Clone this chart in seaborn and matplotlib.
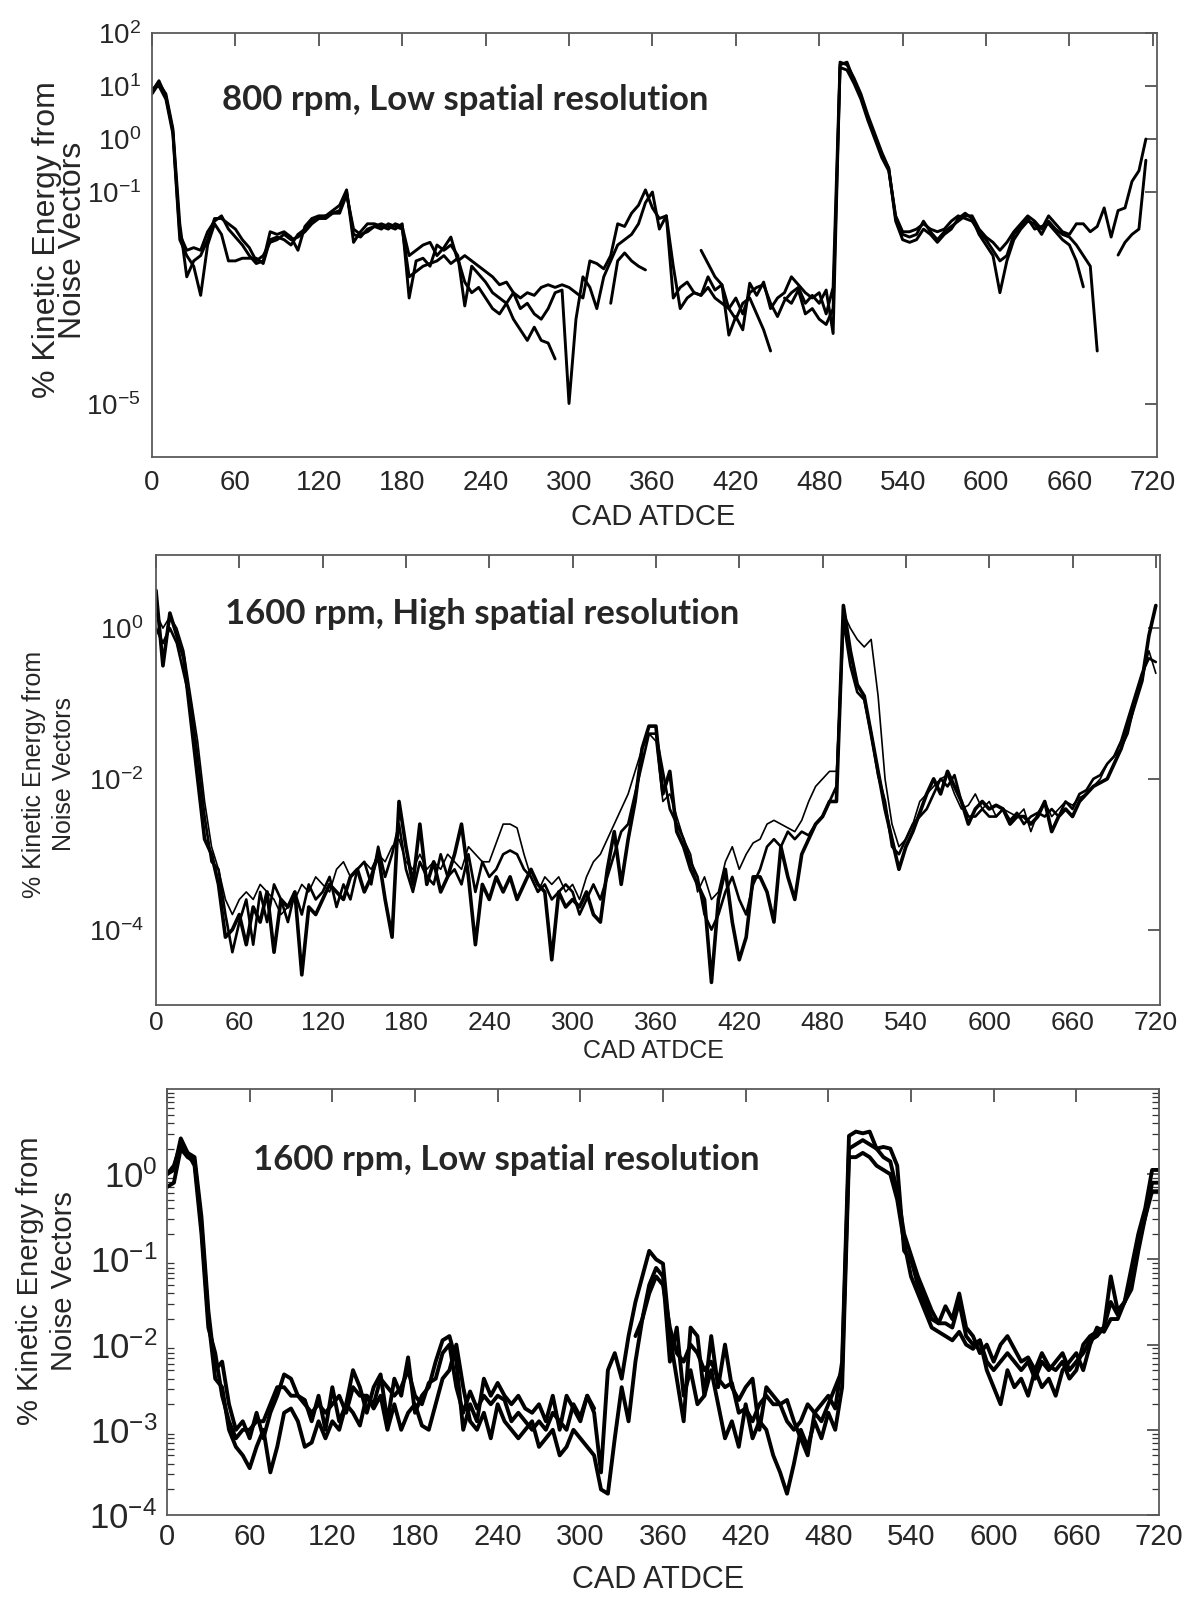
import numpy as np
import pandas as pd
import matplotlib
matplotlib.use("Agg")
import matplotlib.pyplot as plt
import seaborn as sns
from matplotlib.ticker import FixedLocator, FixedFormatter, NullLocator, LogLocator, NullFormatter

nan = np.nan

# ---------------- data (log10 of % kinetic energy), CAD grid 0..720 step 5 ----------------
cad = np.arange(0, 721, 5)
xticks = list(range(0, 721, 60))

# Panel 1: 800 rpm, low spatial resolution
top_a = [0.9, 1.1, 0.8, 0.15, -1.8, -2.1, -2.05, -2.1, -1.75, -1.55, -1.45, -1.7,
         -1.85, -2.0, -2.2, -2.35, -2.3, -1.75, -1.8, -1.75, -1.85, -2.1, -1.65, -1.5,
         -1.45, -1.45, -1.35, -1.25, -0.96, -1.95, -1.75, -1.6, -1.6, -1.65, -1.7, -1.6,
         -1.65, -2.2, -2.1, -2.0, -1.95, -2.2, -2.05, -1.85, -2.3, -2.2, -2.3, -2.4,
         -2.5, -2.6, -2.75, -2.7, -2.9, -3.0, -2.9, -2.95, -2.8, -2.75, -2.8, -2.75,
         -2.8, -2.9, -3.0, -2.3, -2.35, -2.45, -2.2, -1.6, -1.65, -1.4, -1.25, -0.96,
         -1.3, -1.5, -1.45, -3.0, -2.8, -2.7, -2.9, -2.95, -2.6, -2.85, -2.75, -3.7,
         -3.35, -3.6, -2.72, -2.95, -2.7, -3.2, -3.0, -2.9, -2.6, -2.75, -2.9, -3.0,
         -2.9, -3.3, -2.8, 1.45, 1.4, 1.15, 0.85, 0.45, 0.1, -0.25, -0.55, -1.5,
         -1.8, -1.85, -1.8, -1.55, -1.75, -1.9, -1.75, -1.65, -1.55, -1.45, -1.45, -1.7,
         -1.85, -1.95, -2.1, -1.95, -1.75, -1.6, -1.45, -1.55, -1.7, -1.45, -1.6, -1.75,
         -1.8, -1.6, -1.6, -1.75, -1.65, -1.3, -1.85, -1.35, -1.3, -0.8, -0.6, 0.0,
         nan]
top_b = [0.85, 1.05, 0.85, 0.2, -1.6, -2.6, -2.3, -2.2, -1.9, -1.5, -1.5, -1.6,
         -1.7, -1.9, -2.05, -2.3, -2.2, -1.95, -1.9, -1.8, -1.9, -1.85, -1.75, -1.6,
         -1.5, -1.5, -1.4, -1.35, -1.0, -1.8, -1.85, -1.7, -1.65, -1.6, -1.65, -1.7,
         -1.6, -3.0, -2.3, -2.25, -2.4, -2.0, -2.1, -2.0, -2.2, -3.15, -2.4, -2.55,
         -2.7, -2.9, -3.0, -3.1, -2.9, -3.2, -3.1, -3.3, -3.4, -3.2, -2.9, -2.85,
         -4.99, -3.4, -2.6, -2.8, -3.2, -2.6, -2.3, -2.0, -1.9, -1.8, -1.6, -1.2,
         -1.0, -1.7, -1.45, -2.4, -3.2, -3.0, -2.9, -2.95, -2.8, -3.0, -3.1, -3.2,
         -3.0, -3.3, -2.9, -2.8, -2.75, -3.1, -3.35, -3.05, -2.9, -2.8, -3.1, -2.95,
         -3.1, -2.85, -3.67, 1.4, 1.45, 1.1, 0.8, 0.4, 0.05, -0.3, -0.55, -1.55,
         -1.9, -1.95, -1.9, -1.7, -1.8, -1.95, -1.8, -1.7, -1.5, -1.4, -1.5, -1.8,
         -2.0, -2.2, -2.9, -2.3, -1.9, -1.7, -1.55, -1.6, -1.8, -1.55, -1.7, -1.8,
         -1.85, -2.0, -2.2, -2.4, -4.0, nan, nan, nan, nan, nan, nan, nan,
         nan]
top_c = [0.95, 1.0, 0.75, 0.1, -1.9, -2.2, -2.4, -2.95, -2.0, -1.6, -1.8, -2.3,
         -2.3, -2.25, -2.25, -2.25, -2.35, -1.9, -1.85, -1.9, -2.0, -1.8, -1.7, -1.55,
         -1.5, -1.45, -1.4, -1.4, -1.05, -1.7, -1.8, -1.75, -1.65, -1.7, -1.6, -1.65,
         -1.7, -2.6, -2.5, -2.4, -2.35, -2.3, -2.2, -2.35, -2.25, -2.7, -2.9, -2.8,
         -3.0, -3.2, -3.3, -3.1, -3.4, -3.6, -3.8, -3.55, -3.8, -3.85, -4.15, nan,
         nan, nan, nan, nan, nan, nan, -3.1, -2.3, -2.15, -2.3, -2.4, -2.47,
         nan, nan, nan, nan, nan, nan, nan, -2.1, -2.35, -2.6, -2.75, -3.2,
         -3.4, -3.1, -3.0, -3.3, -3.6, -4.0, nan, -3.0, -3.1, -2.85, -3.3, -3.2,
         -3.4, -3.5, -3.2, 1.35, 1.3, 1.05, 0.75, 0.35, 0.0, -0.35, -0.6, -1.45,
         -1.75, -1.75, -1.7, -1.6, -1.7, -1.75, -1.7, -1.55, -1.45, -1.5, -1.55, -1.75,
         -1.9, -2.1, -2.3, -2.2, -1.8, -1.65, -1.5, -1.7, -1.65, -1.6, -1.75, -1.9,
         -2.0, -2.3, -2.79, nan, nan, nan, nan, -2.19, -1.95, -1.8, -1.7, -0.4,
         nan]

# Panel 2: 1600 rpm, high spatial resolution
mid_a = [0.5, -0.5, 0.2, -0.1, -0.4, -1.2, -2.0, -2.8, -3.0, -3.4, -4.1, -4.0,
         -3.8, -4.2, -3.7, -3.9, -3.5, -4.3, -3.6, -3.7, -3.5, -4.6, -3.7, -3.8,
         -3.6, -3.4, -3.5, -3.6, -3.3, -3.2, -3.5, -3.3, -3.0, -3.6, -4.1, -2.3,
         -2.9, -3.4, -2.6, -3.4, -3.1, -3.5, -3.3, -3.0, -2.6, -3.3, -4.2, -3.4,
         -3.6, -3.3, -3.5, -3.3, -3.6, -3.4, -3.2, -3.4, -3.5, -4.4, -3.5, -3.7,
         -3.6, -3.7, -3.5, -3.8, -3.9, -3.2, -2.7, -3.4, -2.8, -2.3, -1.6, -1.3,
         -1.3, -2.2, -1.9, -2.7, -2.9, -3.2, -3.4, -3.6, -4.7, -3.6, -3.2, -3.9,
         -4.4, -4.1, -3.3, -3.3, -3.5, -3.9, -2.9, -3.3, -3.6, -3.0, -2.8, -2.6,
         -2.5, -2.3, -2.3, 0.3, -0.3, -0.75, -0.9, -1.4, -1.9, -2.4, -2.8, -3.2,
         -2.9, -2.7, -2.45, -2.2, -2.0, -2.2, -1.9, -2.1, -2.3, -2.6, -2.4, -2.3,
         -2.4, -2.35, -2.4, -2.6, -2.5, -2.5, -2.6, -2.5, -2.3, -2.7, -2.5, -2.4,
         -2.5, -2.3, -2.2, -2.1, -2.05, -2.0, -1.8, -1.6, -1.3, -1.0, -0.7, -0.1,
         0.3]
mid_b = [0.0, -0.2, 0.0, -0.2, -0.6, -1.0, -1.7, -2.5, -3.1, -3.2, -3.8, -4.3,
         -3.9, -3.6, -4.2, -3.5, -3.9, -3.4, -3.6, -3.9, -3.5, -3.8, -3.4, -3.6,
         -3.5, -3.3, -3.7, -3.4, -3.6, -3.2, -3.1, -3.4, -2.9, -3.3, -3.0, -2.6,
         -3.2, -3.5, -3.1, -3.3, -3.4, -3.0, -3.3, -3.2, -3.4, -3.0, -3.5, -3.1,
         -3.3, -3.2, -3.0, -2.95, -3.0, -3.2, -3.3, -3.5, -3.4, -3.6, -3.5, -3.4,
         -3.5, -3.8, -3.6, -3.4, -3.6, -3.3, -3.0, -2.7, -2.6, -2.2, -1.8, -1.4,
         -1.4, -1.9, -2.4, -2.6, -2.8, -3.1, -3.3, -3.8, -4.0, -3.8, -3.5, -3.3,
         -3.6, -3.8, -3.4, -3.2, -2.9, -2.8, -2.9, -2.7, -2.8, -2.7, -2.75, -2.6,
         -2.5, -2.3, -2.1, 0.1, -0.5, -0.85, -0.95, -1.4, -1.95, -2.3, -2.9, -3.0,
         -2.8, -2.6, -2.5, -2.4, -2.2, -2.0, -2.1, -1.95, -2.3, -2.5, -2.5, -2.4,
         -2.5, -2.5, -2.4, -2.55, -2.45, -2.6, -2.5, -2.45, -2.5, -2.4, -2.5, -2.3,
         -2.4, -2.2, -2.15, -2.0, -1.95, -1.8, -1.7, -1.5, -1.2, -0.9, -0.6, -0.4,
         -0.45]
mid_c = [0.2, 0.0, 0.15, 0.0, -0.3, -0.9, -1.5, -2.3, -2.9, -3.2, -3.6, -3.8,
         -3.6, -3.5, -3.6, -3.4, -3.5, -3.6, -3.8, -3.7, -3.6, -3.4, -3.5, -3.3,
         -3.4, -3.5, -3.2, -3.1, -3.3, -3.2, -3.1, -3.2, -3.0, -3.1, -2.9, -2.8,
         -3.1, -3.2, -3.0, -3.2, -3.1, -3.2, -3.0, -3.1, -3.2, -2.9, -3.0, -3.1,
         -3.1, -2.85, -2.6, -2.6, -2.65, -3.0, -3.3, -3.5, -3.3, -3.4, -3.3, -3.5,
         -3.4, -3.6, -3.3, -3.1, -3.0, -2.8, -2.6, -2.4, -2.2, -1.9, -1.6, -1.4,
         -1.5, -2.3, -2.2, -2.5, -2.8, -3.0, -3.5, -3.3, -3.6, -3.5, -3.1, -2.9,
         -3.2, -3.0, -2.85, -2.8, -2.6, -2.55, -2.6, -2.65, -2.7, -2.55, -2.3, -2.1,
         -2.0, -1.9, -1.9, 0.2, 0.0, -0.15, -0.25, -0.15, -0.9, -2.0, -2.6, -2.9,
         -2.8, -2.6, -2.3, -2.2, -2.1, -2.0, -1.95, -2.2, -2.4, -2.35, -2.2, -2.4,
         -2.3, -2.5, -2.4, -2.45, -2.5, -2.4, -2.7, -2.45, -2.3, -2.5, -2.4, -2.3,
         -2.35, -2.25, -2.2, -2.1, -2.0, -1.8, -1.7, -1.6, -1.4, -1.0, -0.7, -0.3,
         -0.6]

# Panel 3: 1600 rpm, low spatial resolution
bot_a = [0.0, 0.05, 0.42, 0.25, 0.2, -0.5, -1.6, -2.3, -2.2, -2.7, -3.0, -2.9,
         -3.1, -2.8, -3.1, -2.8, -2.6, -2.35, -2.4, -2.6, -2.65, -2.9, -2.6, -3.0,
         -2.5, -2.9, -2.7, -2.3, -2.5, -2.8, -2.5, -2.35, -2.9, -2.4, -2.6, -2.15,
         -2.8, -2.6, -2.5, -2.2, -1.95, -1.9, -2.2, -3.0, -2.7, -2.9, -2.4, -2.6,
         -2.45, -2.6, -2.7, -2.6, -2.75, -2.8, -2.7, -2.9, -2.6, -3.0, -2.6, -2.75,
         -2.9, -2.6, -2.8, -3.5, -2.3, -2.1, -2.4, -1.9, -1.5, -1.2, -0.9, -1.0,
         -1.05, -1.9, -2.4, -2.9, -1.8, -1.9, -2.6, -1.9, -2.5, -2.0, -2.5, -2.65,
         -2.5, -2.4, -3.0, -2.5, -2.6, -2.7, -2.65, -2.9, -3.1, -3.3, -2.8, -2.7,
         -2.6, -2.75, -2.2, 0.45, 0.5, 0.48, 0.5, 0.3, 0.32, 0.3, 0.1, -0.9,
         -1.0, -1.3, -1.5, -1.7, -1.75, -1.55, -1.7, -1.4, -1.8, -1.9, -2.1, -2.0,
         -2.2, -2.0, -1.9, -2.05, -2.2, -2.15, -2.3, -2.1, -2.25, -2.3, -2.2, -2.4,
         -2.3, -2.0, -1.9, -1.85, -1.8, -1.2, -1.6, -1.5, -1.1, -0.7, -0.4, 0.05,
         0.05]
bot_b = [-0.15, -0.1, 0.3, 0.2, 0.15, -0.6, -1.7, -2.4, -2.5, -3.0, -3.2, -3.3,
         -3.45, -3.2, -3.0, -3.5, -3.2, -2.8, -2.75, -2.9, -3.2, -3.15, -2.9, -3.1,
         -2.9, -3.0, -2.7, -2.8, -2.95, -2.6, -2.75, -2.6, -3.0, -2.7, -3.0, -2.8,
         -2.7, -2.95, -3.0, -2.7, -2.4, -2.3, -2.0, -2.5, -2.9, -3.0, -2.8, -3.1,
         -2.7, -2.9, -3.0, -3.1, -3.0, -2.9, -3.2, -3.1, -3.0, -3.3, -3.2, -3.0,
         -3.1, -3.2, -3.3, -3.7, -3.75, -3.1, -2.5, -2.9, -2.2, -1.7, -1.3, -1.1,
         -1.2, -2.2, -1.8, -2.6, -2.3, -2.7, -2.6, -2.3, -2.7, -3.1, -2.9, -3.2,
         -2.7, -3.1, -2.9, -3.0, -3.3, -3.5, -3.75, -3.4, -3.0, -3.2, -2.9, -3.1,
         -2.8, -3.0, -2.5, 0.2, 0.2, 0.25, 0.2, 0.1, 0.05, 0.0, -0.3, -0.8,
         -1.2, -1.4, -1.6, -1.8, -1.85, -1.9, -1.95, -1.85, -2.0, -2.05, -1.95, -2.3,
         -2.5, -2.7, -2.3, -2.5, -2.4, -2.6, -2.3, -2.5, -2.4, -2.6, -2.3, -2.2,
         -2.1, -2.3, -2.0, -1.8, -1.85, -1.7, -1.7, -1.5, -1.35, -0.9, -0.5, -0.2,
         -0.2]
bot_c = [0.0, 0.1, 0.35, 0.25, 0.1, -0.7, -1.8, -2.1, -2.6, -2.9, -3.1, -3.0,
         -3.0, -2.9, -2.9, -2.7, -2.5, -2.5, -2.6, -2.6, -2.7, -2.8, -2.7, -2.8,
         -2.7, -2.6, -2.8, -2.5, -2.6, -2.6, -2.7, -2.4, -2.5, -2.6, -2.5, -2.3,
         -2.6, -2.7, -2.45, -2.4, -2.1, -2.0, -2.5, -2.8, -2.55, -2.75, -2.6, -2.7,
         -2.6, -2.65, -2.9, -2.8, -2.9, -3.0, -2.9, -3.0, -2.8, -2.9, -3.0, -2.7,
         -2.85, -2.6, -2.75, nan, nan, nan, nan, nan, -1.9, -1.7, -1.4, -1.2,
         -1.3, -1.8, -2.1, -2.2, -2.0, -2.1, -2.3, -2.2, -2.4, -2.5, -2.45, -2.8,
         -2.75, -2.9, -2.7, -2.6, -2.7, -2.7, -2.9, -3.0, -2.9, -2.7, -2.8, -2.9,
         -2.7, -2.5, -2.3, 0.3, 0.35, 0.4, 0.35, 0.3, 0.2, 0.15, -0.2, -0.7,
         -0.95, -1.2, -1.4, -1.6, -1.75, -1.75, -1.8, -1.5, -1.9, -2.0, -1.95, -2.2,
         -2.3, -2.2, -2.1, -2.2, -2.3, -2.2, -2.4, -2.2, -2.3, -2.2, -2.1, -2.3,
         -2.2, -2.1, -1.95, -1.9, -1.8, -1.5, -1.65, -1.5, -1.3, -0.8, -0.5, -0.1,
         -0.1]

titles = ["800 rpm, Low spatial resolution",
          "1600 rpm, High spatial resolution",
          "1600 rpm, Low spatial resolution"]
ylabel_text = "% Kinetic Energy from\nNoise Vectors"
xlabel_text = "CAD ATDCE"

# ---------------- styling ----------------
sns.set_style("white")
plt.rcParams['font.family'] = ['Liberation Sans', 'DejaVu Sans']
plt.rcParams['axes.unicode_minus'] = False
REG = ['Liberation Sans', 'DejaVu Sans']
TITLEF = ['Lato', 'Open Sans', 'DejaVu Sans']

W, H = 1192, 1600
fig = plt.figure(figsize=(W / 100, H / 100), dpi=100)


def px_axes(l, t, r, b):
    return fig.add_axes([l / W, 1 - b / H, (r - l) / W, (b - t) / H])


def to_frame(series):
    frames = []
    for name, vals in series.items():
        y = np.power(10.0, np.asarray(vals, dtype=float))
        seg = np.cumsum(np.isnan(y))
        frames.append(pd.DataFrame({"cad": cad, "ke": y, "series": name,
                                    "seg": [f"{name}-{s}" for s in seg]}))
    return pd.concat(frames, ignore_index=True).dropna()


def draw(ax, series, widths):
    df = to_frame(series)
    for name, lw in widths.items():
        sns.lineplot(data=df[df.series == name], x="cad", y="ke", units="seg",
                     estimator=None, sort=False, color="black", lw=lw,
                     ax=ax, legend=False)
    ax.set_yscale("log")
    ax.set_xlabel("")
    ax.set_ylabel("")
    for sp in ax.spines.values():
        sp.set_color("#5a5a5a")
        sp.set_linewidth(1.3)
        sp.set_visible(True)


def decade_labels(exps):
    return [r"$\mathregular{10^{%d}}$" % e for e in exps]


# ---- Panel 1 ----
ax1 = px_axes(152, 33, 1157, 457)
draw(ax1, {"a": top_a, "b": top_b, "c": top_c}, {"a": 2.1, "b": 2.1, "c": 2.1})
ax1.set_xlim(0, 723)
ax1.set_ylim(1e-6, 1e2)
e1 = [2, 1, 0, -1, -5]
ax1.yaxis.set_major_locator(FixedLocator([10.0 ** e for e in e1]))
ax1.yaxis.set_major_formatter(FixedFormatter(decade_labels(e1)))
ax1.yaxis.set_minor_locator(NullLocator())
ax1.xaxis.set_major_locator(FixedLocator(xticks))
ax1.set_xticklabels([str(t) for t in xticks])
ax1.tick_params(axis="both", which="major", direction="in", top=True, right=True,
                length=9, width=1.1, color="#333333")
ax1.tick_params(axis="x", pad=9, labelsize=20)
ax1.tick_params(axis="y", pad=8, labelsize=20)
fig.text(222 / W, 1 - 100 / H, titles[0], fontsize=25, fontweight="bold",
         family=TITLEF, ha="left", va="center")
fig.text(653 / W, 1 - 517 / H, xlabel_text, fontsize=21, family=REG,
         ha="center", va="center")
fig.text(60 / W, 1 - 240 / H, ylabel_text, fontsize=23, family=REG, rotation=90,
         ha="center", va="center", multialignment="center", linespacing=0.85)

# ---- Panel 2 ----
ax2 = px_axes(156, 555, 1160, 1005)
draw(ax2, {"a": mid_a, "b": mid_b, "c": mid_c}, {"a": 2.6, "b": 1.9, "c": 1.2})
ax2.set_xlim(0, 723)
ax2.set_ylim(1e-5, 10 ** 0.97)
e2 = [0, -2, -4]
ax2.yaxis.set_major_locator(FixedLocator([10.0 ** e for e in e2]))
ax2.yaxis.set_major_formatter(FixedFormatter(decade_labels(e2)))
ax2.yaxis.set_minor_locator(NullLocator())
ax2.xaxis.set_major_locator(FixedLocator(xticks))
ax2.set_xticklabels([str(t) for t in xticks])
ax2.tick_params(axis="both", which="major", direction="in", top=True, right=True,
                length=9, width=1.1, color="#333333")
ax2.tick_params(axis="x", pad=4, labelsize=19)
ax2.tick_params(axis="y", pad=9, labelsize=20)
fig.text(225 / W, 1 - 614 / H, titles[1], fontsize=25, fontweight="bold",
         family=TITLEF, ha="left", va="center")
fig.text(653 / W, 1 - 1051 / H, xlabel_text, fontsize=18, family=REG,
         ha="center", va="center")
fig.text(49 / W, 1 - 774 / H, ylabel_text, fontsize=18, family=REG, rotation=90,
         ha="center", va="center", multialignment="center", linespacing=1.35)

# ---- Panel 3 ----
ax3 = px_axes(167, 1089, 1159, 1515)
draw(ax3, {"a": bot_a, "b": bot_b, "c": bot_c}, {"a": 2.8, "b": 2.8, "c": 2.8})
ax3.set_xlim(0, 720)
ax3.set_ylim(1e-4, 1e1)
e3 = [0, -1, -2, -3, -4]
ax3.yaxis.set_major_locator(FixedLocator([10.0 ** e for e in e3]))
ax3.yaxis.set_major_formatter(FixedFormatter(decade_labels(e3)))
ax3.yaxis.set_minor_locator(LogLocator(base=10, subs=np.arange(2, 10)))
ax3.yaxis.set_minor_formatter(NullFormatter())
ax3.xaxis.set_major_locator(FixedLocator(xticks))
ax3.set_xticklabels([str(t) for t in xticks])
ax3.tick_params(axis="both", which="major", direction="in", top=True, right=True,
                length=9, width=1.1, color="#333333")
ax3.tick_params(axis="y", which="minor", direction="in", left=True, right=True,
                length=5, width=0.9, color="#333333")
ax3.tick_params(axis="x", pad=6, labelsize=21)
ax3.tick_params(axis="y", pad=7, labelsize=25)
fig.text(253 / W, 1 - 1160 / H, titles[2], fontsize=25, fontweight="bold",
         family=TITLEF, ha="left", va="center")
fig.text(658 / W, 1 - 1580 / H, xlabel_text, fontsize=22, family=REG,
         ha="center", va="center")
fig.text(47 / W, 1 - 1281 / H, ylabel_text, fontsize=21, family=REG, rotation=90,
         ha="center", va="center", multialignment="center", linespacing=1.3)

fig.savefig("out.png", dpi=100)
